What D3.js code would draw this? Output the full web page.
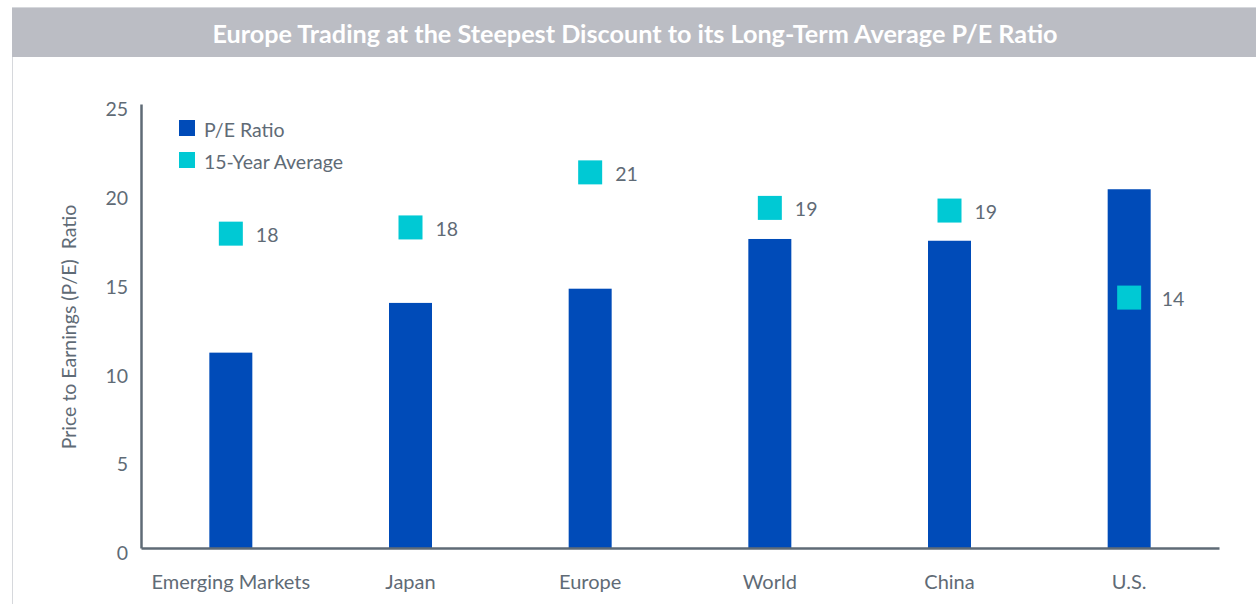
<!DOCTYPE html>
<html><head><meta charset="utf-8">
<script src="https://cdn.jsdelivr.net/npm/d3@7"></script>
<style>body{margin:0;background:#fff;} svg{display:block;font-family:Lato,"Open Sans",sans-serif;}</style>
</head><body><svg id="c" width="1256" height="604"></svg>
<script>
const categories = ["Emerging Markets","Japan","Europe","World","China","U.S."];
const peRatio = [11.0, 13.8, 14.6, 17.4, 17.3, 20.2];
const avg15 = [17.7, 18.05, 21.15, 19.15, 19.0, 14.1];
const avgLabels = ["18","18","21","19","19","14"];
const yTicks = [0,5,10,15,20,25];
const seriesNames = ["P/E Ratio","15-Year Average"];
const titleText = "Europe Trading at the Steepest Discount to its Long-Term Average P/E Ratio";
const yTitle = "Price to Earnings (P/E)\u00a0 Ratio";

const svg = d3.select("#c");
const textCol = "#5f6b76", barCol = "#004bb8", avgCol = "#00c9d4";
const fs = 19.5;

// frame and title bar
svg.append("rect").attr("x",12.5).attr("y",7.5).attr("width",1260).attr("height",620)
  .attr("fill","none").attr("stroke","#d6d8dc").attr("stroke-width",1);
svg.append("rect").attr("x",12).attr("y",8).attr("width",1244).attr("height",49).attr("fill","#bbbdc4");
svg.append("text").attr("x",635).attr("y",33).attr("text-anchor","middle").attr("dominant-baseline","central")
  .attr("fill","#fff").attr("font-size",25.2).attr("font-weight",700).text(titleText);

const x = d3.scaleBand().domain(categories).range([141,1219]);
const y = d3.scaleLinear().domain([0,25]).range([548,104]);
const barW = 43, sq = 24;

// axes
const yAxis = svg.append("g").attr("transform","translate(141,0)")
  .call(d3.axisLeft(y).tickValues(yTicks).tickSize(0).tickPadding(13));
yAxis.select(".domain").attr("stroke",textCol).attr("stroke-width",2.5);
yAxis.selectAll("text").attr("fill",textCol).attr("font-size",fs).attr("font-family","Lato").attr("dy","0.6em");

// bars
svg.append("g").selectAll("rect").data(categories).join("rect")
  .attr("x",d=>x(d)+x.bandwidth()/2-barW/2).attr("width",barW)
  .attr("y",(d,i)=>y(peRatio[i])).attr("height",(d,i)=>y(0)-y(peRatio[i]))
  .attr("fill",barCol);

const xAxis = svg.append("g").attr("transform","translate(0,548)")
  .call(d3.axisBottom(x).tickSize(0).tickPadding(27));
xAxis.select(".domain").attr("stroke",textCol).attr("stroke-width",2.5);
xAxis.selectAll("text").attr("fill",textCol).attr("font-size",20).attr("font-family","Lato");

// average markers
const g = svg.append("g");
g.selectAll("rect").data(categories).join("rect")
  .attr("x",d=>x(d)+x.bandwidth()/2-sq/2).attr("y",(d,i)=>y(avg15[i])-sq/2)
  .attr("width",sq).attr("height",sq).attr("fill",avgCol);
g.selectAll("text").data(categories).join("text")
  .attr("x",(d,i)=>{
    const c = x(d)+x.bandwidth()/2;
    return avg15[i] < peRatio[i] ? c+barW/2+11 : c+sq/2+13;
  })
  .attr("y",(d,i)=>y(avg15[i])+1)
  .attr("dominant-baseline","central").attr("fill",textCol).attr("font-size",fs).text((d,i)=>avgLabels[i]);

// y title
svg.append("text").attr("transform","translate(68,327) rotate(-90)").attr("text-anchor","middle")
  .attr("dominant-baseline","central").attr("fill",textCol).attr("font-size",fs).text(yTitle);

// legend
const leg = svg.append("g").selectAll("g").data(seriesNames).join("g")
  .attr("transform",(d,i)=>`translate(179,${120+i*32})`);
leg.append("rect").attr("width",16).attr("height",16).attr("fill",(d,i)=>i?avgCol:barCol);
leg.append("text").attr("x",25).attr("y",9).attr("dominant-baseline","central")
  .attr("fill",textCol).attr("font-size",fs).text(d=>d);
</script></body></html>
